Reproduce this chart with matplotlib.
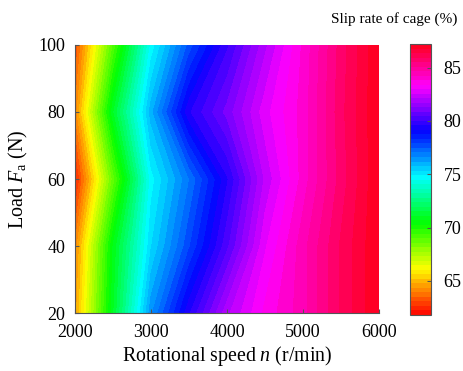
import numpy as np
import matplotlib
matplotlib.use('Agg')
from matplotlib import pyplot as plt

plt.rcParams['font.family'] = ['Liberation Serif', 'DejaVu Serif']
plt.rcParams['mathtext.fontset'] = 'custom'
plt.rcParams['mathtext.rm'] = 'Liberation Serif'
plt.rcParams['mathtext.it'] = 'Liberation Serif:italic'
plt.rcParams['font.size'] = 13

# rotational speed (r/min) and load (N)
speed = [2000, 2500, 3000, 3500, 4000, 4500, 5000, 5500, 6000]
load = [20, 40, 60, 80, 100]

# slip rate of cage (%), one row per load
slip_20 = [64.5, 71.0, 76.5, 79.5, 82.0, 83.5, 84.5, 86.0, 87.2]
slip_40 = [64.0, 70.7, 75.3, 77.8, 80.3, 82.9, 84.5, 86.0, 87.2]
slip_60 = [62.3, 68.7, 74.7, 77.0, 79.5, 82.2, 84.0, 85.7, 87.2]
slip_80 = [64.0, 71.0, 76.0, 79.5, 81.0, 82.8, 84.0, 85.8, 87.2]
slip_100 = [63.0, 69.0, 74.6, 77.6, 79.9, 82.0, 83.9, 85.7, 87.2]

cbar_ticks = [65, 70, 75, 80, 85]

Z = np.array([slip_20, slip_40, slip_60, slip_80, slip_100])
X, Y = np.meshgrid(speed, load)

fig = plt.figure(figsize=(4.63, 3.71), dpi=100)
ax = fig.add_axes([0.162, 0.156, 0.657, 0.723])
cax = fig.add_axes([0.886, 0.151, 0.045, 0.730])

levels = np.linspace(61.8, 87.2, 61)
cs = ax.contourf(X, Y, Z, levels=levels, cmap='hsv', vmin=61.8, vmax=87.2)

ax.set_xlim(2000, 6000)
ax.set_ylim(20, 100)
ax.set_xticks([2000, 3000, 4000, 5000, 6000])
ax.set_yticks([20, 40, 60, 80, 100])
ax.tick_params(direction='in', length=3, color='#555555')
ax.tick_params(axis='x', pad=8)
ax.tick_params(axis='y', pad=7)
ax.spines['top'].set_visible(False)
ax.spines['right'].set_visible(False)
for s in ['left', 'bottom']:
    ax.spines[s].set_color('#555555')
ax.set_xlabel('Rotational speed $n$ (r/min)', fontsize=14.3, labelpad=2)
ax.set_ylabel('Load $F_\\mathrm{a}$ (N)', fontsize=14.5, labelpad=6)

cb = fig.colorbar(cs, cax=cax, ticks=cbar_ticks)
cb.outline.set_edgecolor('#555555')
cb.ax.tick_params(direction='in', length=3, color='#555555', pad=9)
fig.text(0.851, 0.950, 'Slip rate of cage (%)', ha='center', va='center', fontsize=11)

fig.savefig('out.png', dpi=100)
